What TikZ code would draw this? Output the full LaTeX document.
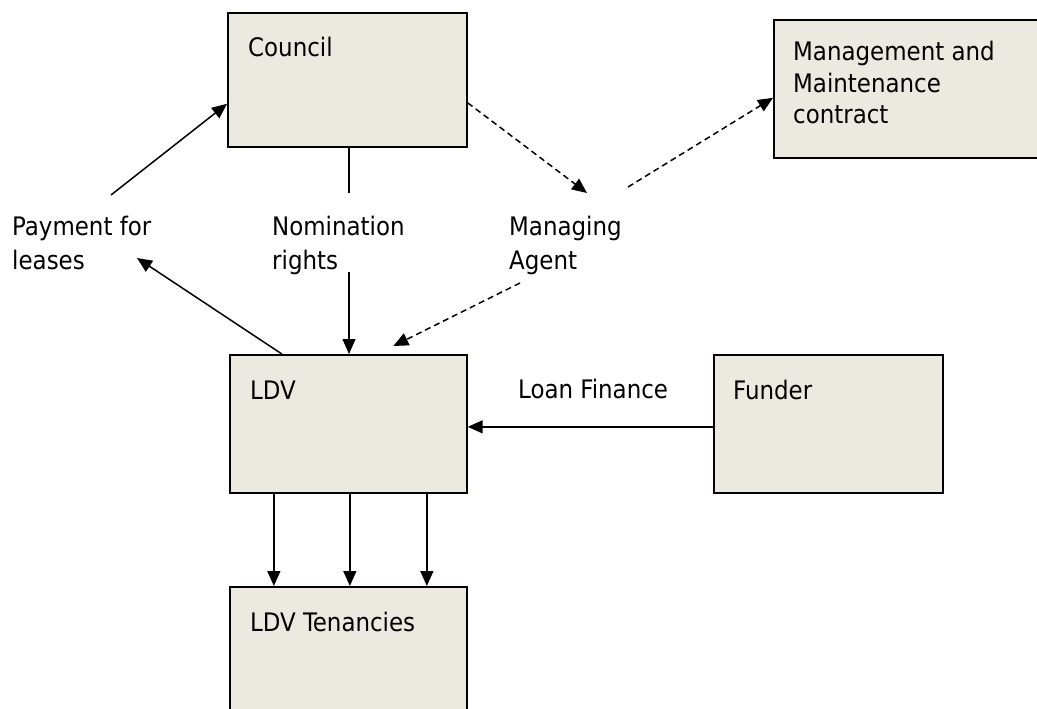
\documentclass[tikz,border=0pt]{standalone}
\usepackage{fontspec}
\setmainfont{DejaVu Sans Condensed}
\usetikzlibrary{arrows.meta}
\definecolor{boxfill}{RGB}{236,233,224}
\tikzset{
  box/.style={draw=black, fill=boxfill, line width=1.7pt, rectangle, inner sep=0pt, anchor=north west},
  txt/.style={font=\fontsize{25.5}{31.5}\selectfont, inner sep=0pt, anchor=base west, align=left},
  lbl/.style={txt, font=\fontsize{25.5}{34}\selectfont},
  conn/.style={line width=1.5pt, draw=black},
  arr/.style={conn, -{Triangle[length=15pt,width=13pt]}},
  darr/.style={arr, dash pattern=on 6pt off 4pt}
}
\begin{document}
\begin{tikzpicture}[x=1pt,y=-1pt]
\clip (0,0) rectangle (1037,709);
\fill[white] (0,0) rectangle (1037,709);
% boxes
\node[box, minimum width=239pt, minimum height=134pt] (council) at (227,12) {};
\node[box, minimum width=300pt, minimum height=138pt] (mgmt) at (773,19) {};
\node[box, minimum width=237pt, minimum height=138pt] (ldv) at (229,354) {};
\node[box, minimum width=229pt, minimum height=138pt] (funder) at (713,354) {};
\node[box, minimum width=237pt, minimum height=140pt] (ten) at (229,586) {};
% box texts (multi-line nodes are placed by the baseline of their last line)
\node[txt] (councilT) at (248,57) {Council};
\node[txt] (mgmtT) at (793,124) {Management and\\Maintenance\\contract};
\node[txt] (ldvT) at (250,399) {LDV};
\node[txt] (funderT) at (733,399) {Funder};
\node[txt] (tenT) at (250,631) {LDV Tenancies};
% labels
\node[lbl] (payL) at (12,269) {Payment for\\leases};
\node[lbl] (nomL) at (272,269) {Nomination\\rights};
\node[lbl] (magL) at (509,269) {Managing\\Agent};
\node[txt] (loanL) at (518,398) {Loan Finance};
% free ends
\coordinate (payA) at (111,195);
\coordinate (payB) at (137,258);
\coordinate (nomA) at (349,193);
\coordinate (nomB) at (349,272);
\coordinate (magTip) at (587,193);
\coordinate (magB) at (628,187);
\coordinate (magC) at (520,283);
% connectors
\draw[arr] (payA) -- ([yshift=-24pt]council.west);
\draw[arr] ([xshift=-66.5pt]ldv.north) -- (payB);
\draw[conn] (council.south -| nomA) -- (nomA);
\draw[arr] (nomB) -- (ldv.north -| nomB);
\draw[darr] ([yshift=-23pt]council.east) -- (magTip);
\draw[darr] (magB) -- ([yshift=-9pt]mgmt.west);
\draw[darr] (magC) -- ([xshift=45pt,yshift=8pt]ldv.north);
\draw[arr] ([yshift=-3pt]funder.west) -- ([yshift=-3pt]ldv.east);
\foreach \s in {-74.5,1.5,78.5}{
  \draw[arr] ([xshift=\s pt]ldv.south) -- ([xshift=\s pt]ten.north);
}
\end{tikzpicture}
\end{document}
